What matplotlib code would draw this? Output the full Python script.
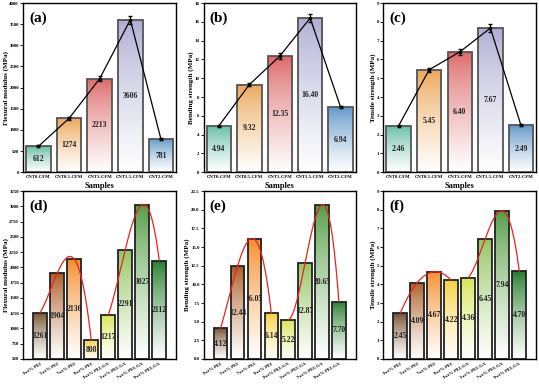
import numpy as np
import matplotlib
matplotlib.use("Agg")
import matplotlib.pyplot as plt
from matplotlib.colors import to_rgb

plt.rcParams['font.family'] = ['Liberation Serif', 'DejaVu Serif']
plt.rcParams['font.weight'] = 'bold'

# top row data
cnt_samples = ["CNT0-CFM", "CNT0.5-CFM", "CNT1-CFM", "CNT1.5-CFM", "CNT2-CFM"]
flex_mod_a = [612, 1274, 2213, 3606, 781]
flex_err_a = [20, 30, 60, 100, 25]
bend_b = [4.94, 9.32, 12.35, 16.40, 6.94]
bend_err_b = [0.10, 0.20, 0.30, 0.45, 0.12]
tens_c = [2.46, 5.45, 6.40, 7.67, 2.49]
tens_err_c = [0.05, 0.12, 0.16, 0.20, 0.05]
cnt_colors = ["#5dbb9f", "#eba452", "#dc6464", "#ababd2", "#5a92c6"]

# bottom row data
pei_samples = ["3wt% PEI", "5wt% PEI", "7wt% PEI", "9wt% PEI",
               "3wt% PEI-GA", "5wt% PEI-GA", "7wt% PEI-GA", "9wt% PEI-GA"]
flex_mod_d = [1261, 1904, 2136, 808, 1217, 2291, 3027, 2112]
bend_e = [4.12, 12.44, 16.05, 6.14, 5.22, 12.87, 20.65, 7.70]
tens_f = [2.45, 4.09, 4.67, 4.22, 4.36, 6.45, 7.94, 4.70]
pei_colors = ["#6e4a26", "#a9571c", "#f58a24", "#f7cf3a",
              "#d4e44e", "#8fc25a", "#4f9a3e", "#1f7a26"]


def gradient_bars(ax, x, vals, colors, base, width, edge):
    bars = ax.bar(x, np.array(vals) - base, width=width, bottom=base,
                  color="none", edgecolor=edge, linewidth=1.3, zorder=3)
    for b, c in zip(bars, colors):
        rgb = np.array(to_rgb(c))
        t = np.linspace(0, 1, 100)[:, None] ** 0.75
        img = (1 - t) * rgb + t * np.ones(3)
        img = img[:, None, :]
        x0, y0 = b.get_x(), b.get_y()
        im = ax.imshow(img, extent=[x0, x0 + b.get_width(), y0, y0 + b.get_height()],
                       aspect="auto", origin="upper", zorder=2)
        im.set_clip_path(b)
    return bars


def style(ax, ylabel, tag):
    ax.set_ylabel(ylabel, fontsize=5.0, fontweight="bold", labelpad=0.5)
    ax.tick_params(axis="y", labelsize=3.5, length=2, width=0.6, pad=1)
    ax.tick_params(axis="x", length=0, pad=2)
    for s in ax.spines.values():
        s.set_linewidth(1.0)
    ax.text(0.04, 0.95, tag, transform=ax.transAxes, fontsize=11,
            fontweight="bold", va="top", ha="left")


fig = plt.figure(figsize=(5.39, 3.86), dpi=100)
top_pos = [(0.043, 0.554, 0.284, 0.438), (0.378, 0.554, 0.282, 0.438),
           (0.711, 0.554, 0.284, 0.438)]
bot_pos = [(0.043, 0.070, 0.284, 0.435), (0.378, 0.070, 0.282, 0.435),
           (0.711, 0.070, 0.284, 0.435)]

top_sets = [
    (flex_mod_a, flex_err_a, "Flexural modulus (MPa)", "(a)", 4000, 500, "{:.0f}"),
    (bend_b, bend_err_b, "Bending strength (MPa)", "(b)", 18, 2, "{:.2f}"),
    (tens_c, tens_err_c, "Tensile strength (MPa)", "(c)", 9, 1, "{:.2f}"),
]
x5 = np.arange(len(cnt_samples))
for pos, (vals, errs, ylab, tag, ymax, step, vfmt) in zip(top_pos, top_sets):
    ax = fig.add_axes(pos)
    gradient_bars(ax, x5, vals, cnt_colors, 0, 0.8, "#555555")
    ax.errorbar(x5, vals, yerr=errs, color="black", lw=0.9, marker="s", ms=1.8,
                capsize=1.5, elinewidth=0.8, zorder=5)
    for xi, v in zip(x5, vals):
        ax.text(xi, v / 2, vfmt.format(v), ha="center", va="center",
                fontsize=5.5, fontweight="bold", color="#222222", zorder=6)
    ax.set_xlim(-0.5, 4.5)
    ax.set_ylim(0, ymax)
    ax.set_yticks(np.arange(0, ymax + step / 2, step))
    ax.set_xticks(x5)
    ax.set_xticklabels(cnt_samples, fontsize=3.4, fontweight="bold")
    ax.set_xlabel("Samples", fontsize=6, fontweight="bold", labelpad=2)
    style(ax, ylab, tag)

bot_sets = [
    (flex_mod_d, "Flexural modulus (MPa)", "(d)", 500, 3250, 250, "{:.0f}", "{:.0f}"),
    (bend_e, "Bending strength (MPa)", "(e)", 0, 22.5, 2.5, "{:.2f}", "{:.1f}"),
    (tens_f, "Tensile strength (MPa)", "(f)", 0, 9, 1, "{:.2f}", "{:.0f}"),
]
x8 = np.arange(len(pei_samples))
for pos, (vals, ylab, tag, ymin, ymax, step, vfmt, tfmt) in zip(bot_pos, bot_sets):
    ax = fig.add_axes(pos)
    gradient_bars(ax, x8, vals, pei_colors, ymin, 0.8, "#222222")
    for g in (x8[:4], x8[4:]):
        yv = np.array(vals)[g]
        coef = np.polyfit(g, yv, 3)
        xs = np.linspace(g[0], g[-1], 200)
        ax.plot(xs, np.polyval(coef, xs), color="#e8231f", lw=0.9, zorder=4)
    for xi, v in zip(x8, vals):
        ax.text(xi, (v + ymin) / 2, vfmt.format(v), ha="center", va="center",
                fontsize=5.5, fontweight="bold", color="#222222", zorder=6)
    ax.set_xlim(-1, 8)
    ax.set_ylim(ymin, ymax)
    ticks = np.arange(ymin, ymax + step / 2, step)
    ax.set_yticks(ticks)
    ax.set_yticklabels([tfmt.format(t) for t in ticks])
    ax.set_xticks(x8)
    ax.set_xticklabels(pei_samples, fontsize=3.3, fontweight="bold",
                       rotation=30, ha="right", rotation_mode="anchor")
    style(ax, ylab, tag)

fig.savefig("out.png", dpi=100)
